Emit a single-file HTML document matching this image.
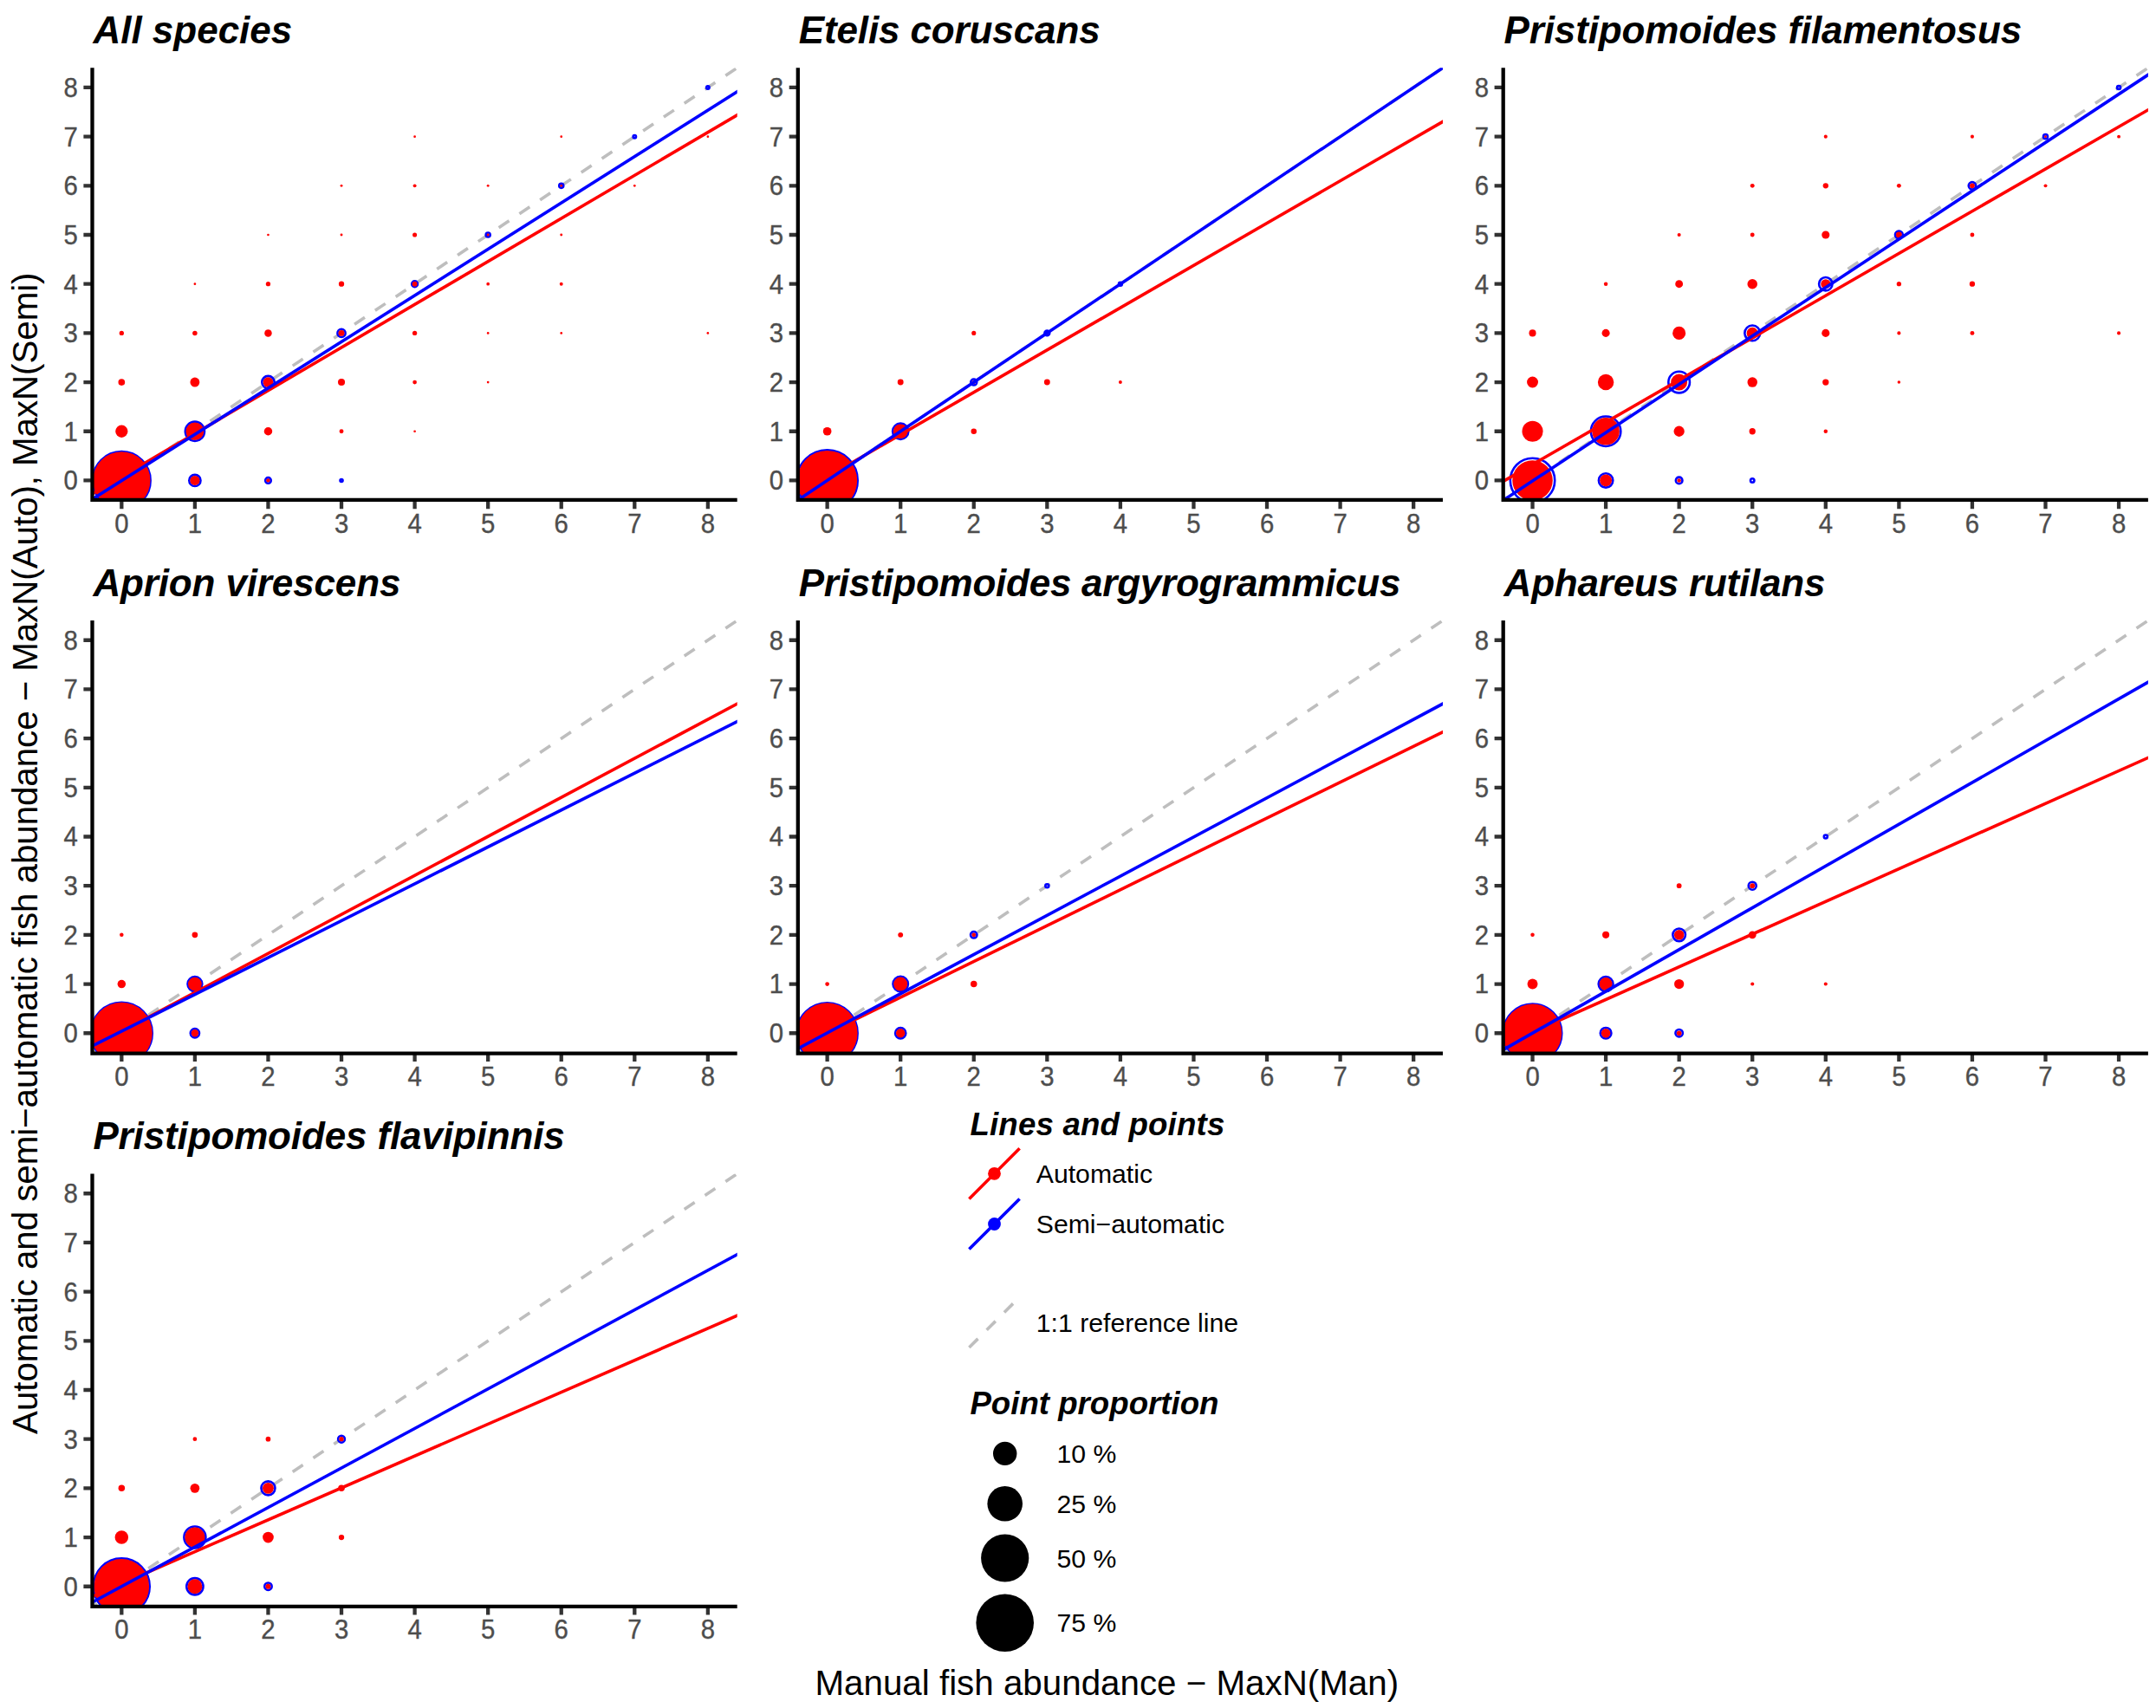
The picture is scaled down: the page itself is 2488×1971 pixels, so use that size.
<!DOCTYPE html>
<html lang="en"><head><meta charset="utf-8"><title>MaxN comparison</title>
<style>html,body{margin:0;padding:0;background:#fff}svg{display:block}text{font-family:"Liberation Sans", Arial, sans-serif}.st{font-size:44px;font-weight:bold;font-style:italic;fill:#000}.tk{font-size:29.33px;fill:#4D4D4D;stroke:#4D4D4D;stroke-width:0.35px}.ax{font-size:40.33px;fill:#000}.lt{font-size:36.67px;font-weight:bold;font-style:italic;fill:#000}.ll{font-size:30.2px;fill:#000}</style></head><body>
<svg width="2488" height="1971" viewBox="0 0 2488 1971">
<rect width="2488" height="1971" fill="#fff"/>
<defs>
<clipPath id="c0"><rect x="106.50" y="78.30" width="744.20" height="498.80"/></clipPath>
<clipPath id="c1"><rect x="920.80" y="78.30" width="744.20" height="498.80"/></clipPath>
<clipPath id="c2"><rect x="1734.70" y="78.30" width="744.20" height="498.80"/></clipPath>
<clipPath id="c3"><rect x="106.50" y="716.10" width="744.20" height="498.80"/></clipPath>
<clipPath id="c4"><rect x="920.80" y="716.10" width="744.20" height="498.80"/></clipPath>
<clipPath id="c5"><rect x="1734.70" y="716.10" width="744.20" height="498.80"/></clipPath>
<clipPath id="c6"><rect x="106.50" y="1354.60" width="744.20" height="498.80"/></clipPath>
</defs>
<g clip-path="url(#c0)">
<line x1="-637.7" y1="1075.9" x2="1594.9" y2="-420.5" stroke="#BEBEBE" stroke-width="3.58" stroke-dasharray="14.32 14.32"/>
<circle cx="140.33" cy="554.43" r="33.3" fill="none" stroke="#0000FF" stroke-width="2.6"/>
<circle cx="224.9" cy="554.43" r="6.6" fill="none" stroke="#0000FF" stroke-width="2.6"/>
<circle cx="224.9" cy="497.75" r="11.1" fill="none" stroke="#0000FF" stroke-width="2.6"/>
<circle cx="309.46" cy="554.43" r="3.3" fill="none" stroke="#0000FF" stroke-width="2.6"/>
<circle cx="309.46" cy="441.06" r="7.2" fill="none" stroke="#0000FF" stroke-width="2.6"/>
<circle cx="394.03" cy="554.43" r="1.5" fill="none" stroke="#0000FF" stroke-width="2.6"/>
<circle cx="394.03" cy="384.38" r="4.6" fill="none" stroke="#0000FF" stroke-width="2.6"/>
<circle cx="478.6" cy="327.7" r="3.4" fill="none" stroke="#0000FF" stroke-width="2.6"/>
<circle cx="563.17" cy="271.02" r="2.5" fill="none" stroke="#0000FF" stroke-width="2.6"/>
<circle cx="647.74" cy="214.34" r="2.5" fill="none" stroke="#0000FF" stroke-width="2.6"/>
<circle cx="732.3" cy="157.65" r="1.7" fill="none" stroke="#0000FF" stroke-width="2.6"/>
<circle cx="816.87" cy="100.97" r="1.7" fill="none" stroke="#0000FF" stroke-width="2.6"/>
<circle cx="140.33" cy="554.43" r="33.15" fill="#FF0000"/>
<circle cx="140.33" cy="497.75" r="7.15" fill="#FF0000"/>
<circle cx="140.33" cy="441.06" r="3.85" fill="#FF0000"/>
<circle cx="140.33" cy="384.38" r="2.65" fill="#FF0000"/>
<circle cx="224.9" cy="554.43" r="5.55" fill="#FF0000"/>
<circle cx="224.9" cy="497.75" r="10.35" fill="#FF0000"/>
<circle cx="224.9" cy="441.06" r="5.45" fill="#FF0000"/>
<circle cx="224.9" cy="384.38" r="2.75" fill="#FF0000"/>
<circle cx="224.9" cy="327.7" r="1.35" fill="#FF0000"/>
<circle cx="309.46" cy="554.43" r="2.15" fill="#FF0000"/>
<circle cx="309.46" cy="497.75" r="4.75" fill="#FF0000"/>
<circle cx="309.46" cy="441.06" r="5.85" fill="#FF0000"/>
<circle cx="309.46" cy="384.38" r="4.25" fill="#FF0000"/>
<circle cx="309.46" cy="327.7" r="2.65" fill="#FF0000"/>
<circle cx="309.46" cy="271.02" r="1.35" fill="#FF0000"/>
<circle cx="394.03" cy="497.75" r="2.45" fill="#FF0000"/>
<circle cx="394.03" cy="441.06" r="4.05" fill="#FF0000"/>
<circle cx="394.03" cy="384.38" r="3.45" fill="#FF0000"/>
<circle cx="394.03" cy="327.7" r="3.15" fill="#FF0000"/>
<circle cx="394.03" cy="271.02" r="1.45" fill="#FF0000"/>
<circle cx="394.03" cy="214.34" r="1.45" fill="#FF0000"/>
<circle cx="478.6" cy="497.75" r="1.35" fill="#FF0000"/>
<circle cx="478.6" cy="441.06" r="2.35" fill="#FF0000"/>
<circle cx="478.6" cy="384.38" r="2.65" fill="#FF0000"/>
<circle cx="478.6" cy="327.7" r="2.95" fill="#FF0000"/>
<circle cx="478.6" cy="271.02" r="2.55" fill="#FF0000"/>
<circle cx="478.6" cy="214.34" r="1.95" fill="#FF0000"/>
<circle cx="478.6" cy="157.65" r="1.35" fill="#FF0000"/>
<circle cx="563.17" cy="441.06" r="1.35" fill="#FF0000"/>
<circle cx="563.17" cy="384.38" r="1.35" fill="#FF0000"/>
<circle cx="563.17" cy="327.7" r="1.85" fill="#FF0000"/>
<circle cx="563.17" cy="271.02" r="1.45" fill="#FF0000"/>
<circle cx="563.17" cy="214.34" r="1.45" fill="#FF0000"/>
<circle cx="647.74" cy="384.38" r="1.35" fill="#FF0000"/>
<circle cx="647.74" cy="327.7" r="1.95" fill="#FF0000"/>
<circle cx="647.74" cy="271.02" r="1.45" fill="#FF0000"/>
<circle cx="647.74" cy="214.34" r="1.35" fill="#FF0000"/>
<circle cx="647.74" cy="157.65" r="1.35" fill="#FF0000"/>
<circle cx="732.3" cy="214.34" r="1.35" fill="#FF0000"/>
<circle cx="816.87" cy="384.38" r="1.35" fill="#FF0000"/>
<circle cx="816.87" cy="157.65" r="1.35" fill="#FF0000"/>
<line x1="-637.7" y1="1007.03" x2="1594.9" y2="-304.27" stroke="#FF0000" stroke-width="3.58"/>
<line x1="-637.7" y1="1046.3" x2="1594.9" y2="-364.35" stroke="#0000FF" stroke-width="3.58"/>
</g>
<path d="M140.33 577.1v10.1M106.5 554.43h-10.1M224.9 577.1v10.1M106.5 497.75h-10.1M309.46 577.1v10.1M106.5 441.06h-10.1M394.03 577.1v10.1M106.5 384.38h-10.1M478.6 577.1v10.1M106.5 327.7h-10.1M563.17 577.1v10.1M106.5 271.02h-10.1M647.74 577.1v10.1M106.5 214.34h-10.1M732.3 577.1v10.1M106.5 157.65h-10.1M816.87 577.1v10.1M106.5 100.97h-10.1" stroke="#333333" stroke-width="4.3" fill="none"/>
<path d="M106.5 78.3V576.8H850.7" stroke="#000" stroke-width="4.3" fill="none" stroke-linejoin="miter"/>
<text class="tk" text-anchor="middle" transform="translate(140.33 615) scale(1 1.055)">0</text>
<text class="tk" text-anchor="end" transform="translate(89.8 565.33) scale(1 1.055)">0</text>
<text class="tk" text-anchor="middle" transform="translate(224.9 615) scale(1 1.055)">1</text>
<text class="tk" text-anchor="end" transform="translate(89.8 508.65) scale(1 1.055)">1</text>
<text class="tk" text-anchor="middle" transform="translate(309.46 615) scale(1 1.055)">2</text>
<text class="tk" text-anchor="end" transform="translate(89.8 451.96) scale(1 1.055)">2</text>
<text class="tk" text-anchor="middle" transform="translate(394.03 615) scale(1 1.055)">3</text>
<text class="tk" text-anchor="end" transform="translate(89.8 395.28) scale(1 1.055)">3</text>
<text class="tk" text-anchor="middle" transform="translate(478.6 615) scale(1 1.055)">4</text>
<text class="tk" text-anchor="end" transform="translate(89.8 338.6) scale(1 1.055)">4</text>
<text class="tk" text-anchor="middle" transform="translate(563.17 615) scale(1 1.055)">5</text>
<text class="tk" text-anchor="end" transform="translate(89.8 281.92) scale(1 1.055)">5</text>
<text class="tk" text-anchor="middle" transform="translate(647.74 615) scale(1 1.055)">6</text>
<text class="tk" text-anchor="end" transform="translate(89.8 225.24) scale(1 1.055)">6</text>
<text class="tk" text-anchor="middle" transform="translate(732.3 615) scale(1 1.055)">7</text>
<text class="tk" text-anchor="end" transform="translate(89.8 168.55) scale(1 1.055)">7</text>
<text class="tk" text-anchor="middle" transform="translate(816.87 615) scale(1 1.055)">8</text>
<text class="tk" text-anchor="end" transform="translate(89.8 111.87) scale(1 1.055)">8</text>
<text class="st" x="107.4" y="50.1" textLength="229.9" lengthAdjust="spacing">All species</text>
<g clip-path="url(#c1)">
<line x1="176.6" y1="1075.9" x2="2409.2" y2="-420.5" stroke="#BEBEBE" stroke-width="3.58" stroke-dasharray="14.32 14.32"/>
<circle cx="954.63" cy="554.43" r="35.1" fill="none" stroke="#0000FF" stroke-width="2.6"/>
<circle cx="1039.2" cy="497.75" r="9.1" fill="none" stroke="#0000FF" stroke-width="2.6"/>
<circle cx="1123.76" cy="441.06" r="3.5" fill="none" stroke="#0000FF" stroke-width="2.6"/>
<circle cx="1208.33" cy="384.38" r="2.9" fill="none" stroke="#0000FF" stroke-width="2.6"/>
<circle cx="1292.9" cy="327.7" r="1.9" fill="none" stroke="#0000FF" stroke-width="2.6"/>
<circle cx="954.63" cy="554.43" r="34.55" fill="#FF0000"/>
<circle cx="954.63" cy="497.75" r="4.85" fill="#FF0000"/>
<circle cx="1039.2" cy="497.75" r="8.35" fill="#FF0000"/>
<circle cx="1039.2" cy="441.06" r="3.45" fill="#FF0000"/>
<circle cx="1123.76" cy="497.75" r="3.25" fill="#FF0000"/>
<circle cx="1123.76" cy="441.06" r="2.15" fill="#FF0000"/>
<circle cx="1123.76" cy="384.38" r="2.55" fill="#FF0000"/>
<circle cx="1208.33" cy="441.06" r="3.45" fill="#FF0000"/>
<circle cx="1208.33" cy="384.38" r="1.65" fill="#FF0000"/>
<circle cx="1292.9" cy="441.06" r="1.95" fill="#FF0000"/>
<line x1="176.6" y1="999.39" x2="2409.2" y2="-289.16" stroke="#FF0000" stroke-width="3.58"/>
<line x1="176.6" y1="1075.9" x2="2409.2" y2="-420.5" stroke="#0000FF" stroke-width="3.58"/>
</g>
<path d="M954.63 577.1v10.1M920.8 554.43h-10.1M1039.2 577.1v10.1M920.8 497.75h-10.1M1123.76 577.1v10.1M920.8 441.06h-10.1M1208.33 577.1v10.1M920.8 384.38h-10.1M1292.9 577.1v10.1M920.8 327.7h-10.1M1377.47 577.1v10.1M920.8 271.02h-10.1M1462.04 577.1v10.1M920.8 214.34h-10.1M1546.6 577.1v10.1M920.8 157.65h-10.1M1631.17 577.1v10.1M920.8 100.97h-10.1" stroke="#333333" stroke-width="4.3" fill="none"/>
<path d="M920.8 78.3V576.8H1665" stroke="#000" stroke-width="4.3" fill="none" stroke-linejoin="miter"/>
<text class="tk" text-anchor="middle" transform="translate(954.63 615) scale(1 1.055)">0</text>
<text class="tk" text-anchor="end" transform="translate(904.1 565.33) scale(1 1.055)">0</text>
<text class="tk" text-anchor="middle" transform="translate(1039.2 615) scale(1 1.055)">1</text>
<text class="tk" text-anchor="end" transform="translate(904.1 508.65) scale(1 1.055)">1</text>
<text class="tk" text-anchor="middle" transform="translate(1123.76 615) scale(1 1.055)">2</text>
<text class="tk" text-anchor="end" transform="translate(904.1 451.96) scale(1 1.055)">2</text>
<text class="tk" text-anchor="middle" transform="translate(1208.33 615) scale(1 1.055)">3</text>
<text class="tk" text-anchor="end" transform="translate(904.1 395.28) scale(1 1.055)">3</text>
<text class="tk" text-anchor="middle" transform="translate(1292.9 615) scale(1 1.055)">4</text>
<text class="tk" text-anchor="end" transform="translate(904.1 338.6) scale(1 1.055)">4</text>
<text class="tk" text-anchor="middle" transform="translate(1377.47 615) scale(1 1.055)">5</text>
<text class="tk" text-anchor="end" transform="translate(904.1 281.92) scale(1 1.055)">5</text>
<text class="tk" text-anchor="middle" transform="translate(1462.04 615) scale(1 1.055)">6</text>
<text class="tk" text-anchor="end" transform="translate(904.1 225.24) scale(1 1.055)">6</text>
<text class="tk" text-anchor="middle" transform="translate(1546.6 615) scale(1 1.055)">7</text>
<text class="tk" text-anchor="end" transform="translate(904.1 168.55) scale(1 1.055)">7</text>
<text class="tk" text-anchor="middle" transform="translate(1631.17 615) scale(1 1.055)">8</text>
<text class="tk" text-anchor="end" transform="translate(904.1 111.87) scale(1 1.055)">8</text>
<text class="st" x="921.7" y="50.1" textLength="347.92" lengthAdjust="spacing">Etelis coruscans</text>
<g clip-path="url(#c2)">
<line x1="990.5" y1="1075.9" x2="3223.1" y2="-420.5" stroke="#BEBEBE" stroke-width="3.58" stroke-dasharray="14.32 14.32"/>
<circle cx="1768.53" cy="554.43" r="25.7" fill="none" stroke="#0000FF" stroke-width="2.6"/>
<circle cx="1853.1" cy="554.43" r="8.2" fill="none" stroke="#0000FF" stroke-width="2.6"/>
<circle cx="1853.1" cy="497.75" r="17.2" fill="none" stroke="#0000FF" stroke-width="2.6"/>
<circle cx="1937.66" cy="554.43" r="3.8" fill="none" stroke="#0000FF" stroke-width="2.6"/>
<circle cx="1937.66" cy="441.06" r="12.3" fill="none" stroke="#0000FF" stroke-width="2.6"/>
<circle cx="2022.23" cy="554.43" r="2.2" fill="none" stroke="#0000FF" stroke-width="2.6"/>
<circle cx="2022.23" cy="384.38" r="8.9" fill="none" stroke="#0000FF" stroke-width="2.6"/>
<circle cx="2106.8" cy="327.7" r="7.7" fill="none" stroke="#0000FF" stroke-width="2.6"/>
<circle cx="2191.37" cy="271.02" r="4.4" fill="none" stroke="#0000FF" stroke-width="2.6"/>
<circle cx="2275.94" cy="214.34" r="4.2" fill="none" stroke="#0000FF" stroke-width="2.6"/>
<circle cx="2360.5" cy="157.65" r="2.5" fill="none" stroke="#0000FF" stroke-width="2.6"/>
<circle cx="2445.07" cy="100.97" r="2" fill="none" stroke="#0000FF" stroke-width="2.6"/>
<circle cx="1768.53" cy="554.43" r="23.25" fill="#FF0000"/>
<circle cx="1768.53" cy="497.75" r="12.05" fill="#FF0000"/>
<circle cx="1768.53" cy="441.06" r="6.45" fill="#FF0000"/>
<circle cx="1768.53" cy="384.38" r="4.05" fill="#FF0000"/>
<circle cx="1853.1" cy="554.43" r="6.95" fill="#FF0000"/>
<circle cx="1853.1" cy="497.75" r="15.75" fill="#FF0000"/>
<circle cx="1853.1" cy="441.06" r="9.25" fill="#FF0000"/>
<circle cx="1853.1" cy="384.38" r="4.55" fill="#FF0000"/>
<circle cx="1853.1" cy="327.7" r="2.25" fill="#FF0000"/>
<circle cx="1937.66" cy="554.43" r="2.25" fill="#FF0000"/>
<circle cx="1937.66" cy="497.75" r="6.15" fill="#FF0000"/>
<circle cx="1937.66" cy="441.06" r="9.45" fill="#FF0000"/>
<circle cx="1937.66" cy="384.38" r="7.55" fill="#FF0000"/>
<circle cx="1937.66" cy="327.7" r="4.45" fill="#FF0000"/>
<circle cx="1937.66" cy="271.02" r="2.05" fill="#FF0000"/>
<circle cx="2022.23" cy="497.75" r="3.65" fill="#FF0000"/>
<circle cx="2022.23" cy="441.06" r="5.75" fill="#FF0000"/>
<circle cx="2022.23" cy="384.38" r="6.55" fill="#FF0000"/>
<circle cx="2022.23" cy="327.7" r="5.75" fill="#FF0000"/>
<circle cx="2022.23" cy="271.02" r="2.45" fill="#FF0000"/>
<circle cx="2022.23" cy="214.34" r="2.45" fill="#FF0000"/>
<circle cx="2106.8" cy="497.75" r="2.25" fill="#FF0000"/>
<circle cx="2106.8" cy="441.06" r="3.65" fill="#FF0000"/>
<circle cx="2106.8" cy="384.38" r="4.55" fill="#FF0000"/>
<circle cx="2106.8" cy="327.7" r="5.55" fill="#FF0000"/>
<circle cx="2106.8" cy="271.02" r="4.55" fill="#FF0000"/>
<circle cx="2106.8" cy="214.34" r="3.15" fill="#FF0000"/>
<circle cx="2106.8" cy="157.65" r="2.05" fill="#FF0000"/>
<circle cx="2191.37" cy="441.06" r="1.75" fill="#FF0000"/>
<circle cx="2191.37" cy="384.38" r="2.05" fill="#FF0000"/>
<circle cx="2191.37" cy="327.7" r="2.65" fill="#FF0000"/>
<circle cx="2191.37" cy="271.02" r="3.45" fill="#FF0000"/>
<circle cx="2191.37" cy="214.34" r="2.45" fill="#FF0000"/>
<circle cx="2275.94" cy="384.38" r="2.45" fill="#FF0000"/>
<circle cx="2275.94" cy="327.7" r="3.15" fill="#FF0000"/>
<circle cx="2275.94" cy="271.02" r="2.45" fill="#FF0000"/>
<circle cx="2275.94" cy="214.34" r="2.85" fill="#FF0000"/>
<circle cx="2275.94" cy="157.65" r="2.05" fill="#FF0000"/>
<circle cx="2360.5" cy="214.34" r="1.95" fill="#FF0000"/>
<circle cx="2360.5" cy="157.65" r="1.35" fill="#FF0000"/>
<circle cx="2445.07" cy="384.38" r="2.05" fill="#FF0000"/>
<circle cx="2445.07" cy="157.65" r="1.95" fill="#FF0000"/>
<line x1="990.5" y1="984.21" x2="3223.1" y2="-301.94" stroke="#FF0000" stroke-width="3.58"/>
<line x1="990.5" y1="1068.44" x2="3223.1" y2="-404.77" stroke="#0000FF" stroke-width="3.58"/>
</g>
<path d="M1768.53 577.1v10.1M1734.7 554.43h-10.1M1853.1 577.1v10.1M1734.7 497.75h-10.1M1937.66 577.1v10.1M1734.7 441.06h-10.1M2022.23 577.1v10.1M1734.7 384.38h-10.1M2106.8 577.1v10.1M1734.7 327.7h-10.1M2191.37 577.1v10.1M1734.7 271.02h-10.1M2275.94 577.1v10.1M1734.7 214.34h-10.1M2360.5 577.1v10.1M1734.7 157.65h-10.1M2445.07 577.1v10.1M1734.7 100.97h-10.1" stroke="#333333" stroke-width="4.3" fill="none"/>
<path d="M1734.7 78.3V576.8H2478.9" stroke="#000" stroke-width="4.3" fill="none" stroke-linejoin="miter"/>
<text class="tk" text-anchor="middle" transform="translate(1768.53 615) scale(1 1.055)">0</text>
<text class="tk" text-anchor="end" transform="translate(1718 565.33) scale(1 1.055)">0</text>
<text class="tk" text-anchor="middle" transform="translate(1853.1 615) scale(1 1.055)">1</text>
<text class="tk" text-anchor="end" transform="translate(1718 508.65) scale(1 1.055)">1</text>
<text class="tk" text-anchor="middle" transform="translate(1937.66 615) scale(1 1.055)">2</text>
<text class="tk" text-anchor="end" transform="translate(1718 451.96) scale(1 1.055)">2</text>
<text class="tk" text-anchor="middle" transform="translate(2022.23 615) scale(1 1.055)">3</text>
<text class="tk" text-anchor="end" transform="translate(1718 395.28) scale(1 1.055)">3</text>
<text class="tk" text-anchor="middle" transform="translate(2106.8 615) scale(1 1.055)">4</text>
<text class="tk" text-anchor="end" transform="translate(1718 338.6) scale(1 1.055)">4</text>
<text class="tk" text-anchor="middle" transform="translate(2191.37 615) scale(1 1.055)">5</text>
<text class="tk" text-anchor="end" transform="translate(1718 281.92) scale(1 1.055)">5</text>
<text class="tk" text-anchor="middle" transform="translate(2275.94 615) scale(1 1.055)">6</text>
<text class="tk" text-anchor="end" transform="translate(1718 225.24) scale(1 1.055)">6</text>
<text class="tk" text-anchor="middle" transform="translate(2360.5 615) scale(1 1.055)">7</text>
<text class="tk" text-anchor="end" transform="translate(1718 168.55) scale(1 1.055)">7</text>
<text class="tk" text-anchor="middle" transform="translate(2445.07 615) scale(1 1.055)">8</text>
<text class="tk" text-anchor="end" transform="translate(1718 111.87) scale(1 1.055)">8</text>
<text class="st" x="1735.6" y="50.1" textLength="597.56" lengthAdjust="spacing">Pristipomoides filamentosus</text>
<g clip-path="url(#c3)">
<line x1="-637.7" y1="1713.7" x2="1594.9" y2="217.3" stroke="#BEBEBE" stroke-width="3.58" stroke-dasharray="14.32 14.32"/>
<circle cx="140.33" cy="1192.23" r="35.4" fill="none" stroke="#0000FF" stroke-width="2.6"/>
<circle cx="224.9" cy="1192.23" r="5.1" fill="none" stroke="#0000FF" stroke-width="2.6"/>
<circle cx="224.9" cy="1135.55" r="8.4" fill="none" stroke="#0000FF" stroke-width="2.6"/>
<circle cx="140.33" cy="1192.23" r="35.45" fill="#FF0000"/>
<circle cx="140.33" cy="1135.55" r="4.75" fill="#FF0000"/>
<circle cx="140.33" cy="1078.86" r="2.25" fill="#FF0000"/>
<circle cx="224.9" cy="1192.23" r="4.15" fill="#FF0000"/>
<circle cx="224.9" cy="1135.55" r="7.85" fill="#FF0000"/>
<circle cx="224.9" cy="1078.86" r="3.35" fill="#FF0000"/>
<line x1="-637.7" y1="1604.48" x2="1594.9" y2="416.04" stroke="#FF0000" stroke-width="3.58"/>
<line x1="-637.7" y1="1581.44" x2="1594.9" y2="458.39" stroke="#0000FF" stroke-width="3.58"/>
</g>
<path d="M140.33 1214.9v10.1M106.5 1192.23h-10.1M224.9 1214.9v10.1M106.5 1135.55h-10.1M309.46 1214.9v10.1M106.5 1078.86h-10.1M394.03 1214.9v10.1M106.5 1022.18h-10.1M478.6 1214.9v10.1M106.5 965.5h-10.1M563.17 1214.9v10.1M106.5 908.82h-10.1M647.74 1214.9v10.1M106.5 852.14h-10.1M732.3 1214.9v10.1M106.5 795.45h-10.1M816.87 1214.9v10.1M106.5 738.77h-10.1" stroke="#333333" stroke-width="4.3" fill="none"/>
<path d="M106.5 716.1V1215.7H850.7" stroke="#000" stroke-width="4.3" fill="none" stroke-linejoin="miter"/>
<text class="tk" text-anchor="middle" transform="translate(140.33 1252.8) scale(1 1.055)">0</text>
<text class="tk" text-anchor="end" transform="translate(89.8 1203.13) scale(1 1.055)">0</text>
<text class="tk" text-anchor="middle" transform="translate(224.9 1252.8) scale(1 1.055)">1</text>
<text class="tk" text-anchor="end" transform="translate(89.8 1146.45) scale(1 1.055)">1</text>
<text class="tk" text-anchor="middle" transform="translate(309.46 1252.8) scale(1 1.055)">2</text>
<text class="tk" text-anchor="end" transform="translate(89.8 1089.76) scale(1 1.055)">2</text>
<text class="tk" text-anchor="middle" transform="translate(394.03 1252.8) scale(1 1.055)">3</text>
<text class="tk" text-anchor="end" transform="translate(89.8 1033.08) scale(1 1.055)">3</text>
<text class="tk" text-anchor="middle" transform="translate(478.6 1252.8) scale(1 1.055)">4</text>
<text class="tk" text-anchor="end" transform="translate(89.8 976.4) scale(1 1.055)">4</text>
<text class="tk" text-anchor="middle" transform="translate(563.17 1252.8) scale(1 1.055)">5</text>
<text class="tk" text-anchor="end" transform="translate(89.8 919.72) scale(1 1.055)">5</text>
<text class="tk" text-anchor="middle" transform="translate(647.74 1252.8) scale(1 1.055)">6</text>
<text class="tk" text-anchor="end" transform="translate(89.8 863.04) scale(1 1.055)">6</text>
<text class="tk" text-anchor="middle" transform="translate(732.3 1252.8) scale(1 1.055)">7</text>
<text class="tk" text-anchor="end" transform="translate(89.8 806.35) scale(1 1.055)">7</text>
<text class="tk" text-anchor="middle" transform="translate(816.87 1252.8) scale(1 1.055)">8</text>
<text class="tk" text-anchor="end" transform="translate(89.8 749.67) scale(1 1.055)">8</text>
<text class="st" x="107.4" y="687.9" textLength="355.03" lengthAdjust="spacing">Aprion virescens</text>
<g clip-path="url(#c4)">
<line x1="176.6" y1="1713.7" x2="2409.2" y2="217.3" stroke="#BEBEBE" stroke-width="3.58" stroke-dasharray="14.32 14.32"/>
<circle cx="954.63" cy="1192.23" r="35" fill="none" stroke="#0000FF" stroke-width="2.6"/>
<circle cx="1039.2" cy="1192.23" r="6.1" fill="none" stroke="#0000FF" stroke-width="2.6"/>
<circle cx="1039.2" cy="1135.55" r="8.7" fill="none" stroke="#0000FF" stroke-width="2.6"/>
<circle cx="1123.76" cy="1078.86" r="3.7" fill="none" stroke="#0000FF" stroke-width="2.6"/>
<circle cx="1208.33" cy="1022.18" r="2" fill="none" stroke="#0000FF" stroke-width="2.6"/>
<circle cx="954.63" cy="1192.23" r="34.95" fill="#FF0000"/>
<circle cx="954.63" cy="1135.55" r="2.35" fill="#FF0000"/>
<circle cx="1039.2" cy="1192.23" r="5.15" fill="#FF0000"/>
<circle cx="1039.2" cy="1135.55" r="7.95" fill="#FF0000"/>
<circle cx="1039.2" cy="1078.86" r="2.95" fill="#FF0000"/>
<circle cx="1123.76" cy="1135.55" r="3.75" fill="#FF0000"/>
<circle cx="1123.76" cy="1078.86" r="2.35" fill="#FF0000"/>
<line x1="176.6" y1="1572.9" x2="2409.2" y2="480.53" stroke="#FF0000" stroke-width="3.58"/>
<line x1="176.6" y1="1607.94" x2="2409.2" y2="414.26" stroke="#0000FF" stroke-width="3.58"/>
</g>
<path d="M954.63 1214.9v10.1M920.8 1192.23h-10.1M1039.2 1214.9v10.1M920.8 1135.55h-10.1M1123.76 1214.9v10.1M920.8 1078.86h-10.1M1208.33 1214.9v10.1M920.8 1022.18h-10.1M1292.9 1214.9v10.1M920.8 965.5h-10.1M1377.47 1214.9v10.1M920.8 908.82h-10.1M1462.04 1214.9v10.1M920.8 852.14h-10.1M1546.6 1214.9v10.1M920.8 795.45h-10.1M1631.17 1214.9v10.1M920.8 738.77h-10.1" stroke="#333333" stroke-width="4.3" fill="none"/>
<path d="M920.8 716.1V1215.7H1665" stroke="#000" stroke-width="4.3" fill="none" stroke-linejoin="miter"/>
<text class="tk" text-anchor="middle" transform="translate(954.63 1252.8) scale(1 1.055)">0</text>
<text class="tk" text-anchor="end" transform="translate(904.1 1203.13) scale(1 1.055)">0</text>
<text class="tk" text-anchor="middle" transform="translate(1039.2 1252.8) scale(1 1.055)">1</text>
<text class="tk" text-anchor="end" transform="translate(904.1 1146.45) scale(1 1.055)">1</text>
<text class="tk" text-anchor="middle" transform="translate(1123.76 1252.8) scale(1 1.055)">2</text>
<text class="tk" text-anchor="end" transform="translate(904.1 1089.76) scale(1 1.055)">2</text>
<text class="tk" text-anchor="middle" transform="translate(1208.33 1252.8) scale(1 1.055)">3</text>
<text class="tk" text-anchor="end" transform="translate(904.1 1033.08) scale(1 1.055)">3</text>
<text class="tk" text-anchor="middle" transform="translate(1292.9 1252.8) scale(1 1.055)">4</text>
<text class="tk" text-anchor="end" transform="translate(904.1 976.4) scale(1 1.055)">4</text>
<text class="tk" text-anchor="middle" transform="translate(1377.47 1252.8) scale(1 1.055)">5</text>
<text class="tk" text-anchor="end" transform="translate(904.1 919.72) scale(1 1.055)">5</text>
<text class="tk" text-anchor="middle" transform="translate(1462.04 1252.8) scale(1 1.055)">6</text>
<text class="tk" text-anchor="end" transform="translate(904.1 863.04) scale(1 1.055)">6</text>
<text class="tk" text-anchor="middle" transform="translate(1546.6 1252.8) scale(1 1.055)">7</text>
<text class="tk" text-anchor="end" transform="translate(904.1 806.35) scale(1 1.055)">7</text>
<text class="tk" text-anchor="middle" transform="translate(1631.17 1252.8) scale(1 1.055)">8</text>
<text class="tk" text-anchor="end" transform="translate(904.1 749.67) scale(1 1.055)">8</text>
<text class="st" x="921.7" y="687.9" textLength="694.67" lengthAdjust="spacing">Pristipomoides argyrogrammicus</text>
<g clip-path="url(#c5)">
<line x1="990.5" y1="1713.7" x2="3223.1" y2="217.3" stroke="#BEBEBE" stroke-width="3.58" stroke-dasharray="14.32 14.32"/>
<circle cx="1768.53" cy="1192.23" r="33.7" fill="none" stroke="#0000FF" stroke-width="2.6"/>
<circle cx="1853.1" cy="1192.23" r="6.3" fill="none" stroke="#0000FF" stroke-width="2.6"/>
<circle cx="1853.1" cy="1135.55" r="8.4" fill="none" stroke="#0000FF" stroke-width="2.6"/>
<circle cx="1937.66" cy="1192.23" r="4.2" fill="none" stroke="#0000FF" stroke-width="2.6"/>
<circle cx="1937.66" cy="1078.86" r="7.3" fill="none" stroke="#0000FF" stroke-width="2.6"/>
<circle cx="2022.23" cy="1022.18" r="4.5" fill="none" stroke="#0000FF" stroke-width="2.6"/>
<circle cx="2106.8" cy="965.5" r="2" fill="none" stroke="#0000FF" stroke-width="2.6"/>
<circle cx="1768.53" cy="1192.23" r="33.65" fill="#FF0000"/>
<circle cx="1768.53" cy="1135.55" r="5.95" fill="#FF0000"/>
<circle cx="1768.53" cy="1078.86" r="2.25" fill="#FF0000"/>
<circle cx="1853.1" cy="1192.23" r="5.25" fill="#FF0000"/>
<circle cx="1853.1" cy="1135.55" r="7.45" fill="#FF0000"/>
<circle cx="1853.1" cy="1078.86" r="4.05" fill="#FF0000"/>
<circle cx="1937.66" cy="1192.23" r="2.85" fill="#FF0000"/>
<circle cx="1937.66" cy="1135.55" r="5.65" fill="#FF0000"/>
<circle cx="1937.66" cy="1078.86" r="5.75" fill="#FF0000"/>
<circle cx="1937.66" cy="1022.18" r="2.85" fill="#FF0000"/>
<circle cx="2022.23" cy="1135.55" r="2.05" fill="#FF0000"/>
<circle cx="2022.23" cy="1078.86" r="4.45" fill="#FF0000"/>
<circle cx="2022.23" cy="1022.18" r="2.85" fill="#FF0000"/>
<circle cx="2106.8" cy="1135.55" r="2.05" fill="#FF0000"/>
<line x1="990.5" y1="1538.03" x2="3223.1" y2="542.63" stroke="#FF0000" stroke-width="3.58"/>
<line x1="990.5" y1="1635.79" x2="3223.1" y2="362.95" stroke="#0000FF" stroke-width="3.58"/>
</g>
<path d="M1768.53 1214.9v10.1M1734.7 1192.23h-10.1M1853.1 1214.9v10.1M1734.7 1135.55h-10.1M1937.66 1214.9v10.1M1734.7 1078.86h-10.1M2022.23 1214.9v10.1M1734.7 1022.18h-10.1M2106.8 1214.9v10.1M1734.7 965.5h-10.1M2191.37 1214.9v10.1M1734.7 908.82h-10.1M2275.94 1214.9v10.1M1734.7 852.14h-10.1M2360.5 1214.9v10.1M1734.7 795.45h-10.1M2445.07 1214.9v10.1M1734.7 738.77h-10.1" stroke="#333333" stroke-width="4.3" fill="none"/>
<path d="M1734.7 716.1V1215.7H2478.9" stroke="#000" stroke-width="4.3" fill="none" stroke-linejoin="miter"/>
<text class="tk" text-anchor="middle" transform="translate(1768.53 1252.8) scale(1 1.055)">0</text>
<text class="tk" text-anchor="end" transform="translate(1718 1203.13) scale(1 1.055)">0</text>
<text class="tk" text-anchor="middle" transform="translate(1853.1 1252.8) scale(1 1.055)">1</text>
<text class="tk" text-anchor="end" transform="translate(1718 1146.45) scale(1 1.055)">1</text>
<text class="tk" text-anchor="middle" transform="translate(1937.66 1252.8) scale(1 1.055)">2</text>
<text class="tk" text-anchor="end" transform="translate(1718 1089.76) scale(1 1.055)">2</text>
<text class="tk" text-anchor="middle" transform="translate(2022.23 1252.8) scale(1 1.055)">3</text>
<text class="tk" text-anchor="end" transform="translate(1718 1033.08) scale(1 1.055)">3</text>
<text class="tk" text-anchor="middle" transform="translate(2106.8 1252.8) scale(1 1.055)">4</text>
<text class="tk" text-anchor="end" transform="translate(1718 976.4) scale(1 1.055)">4</text>
<text class="tk" text-anchor="middle" transform="translate(2191.37 1252.8) scale(1 1.055)">5</text>
<text class="tk" text-anchor="end" transform="translate(1718 919.72) scale(1 1.055)">5</text>
<text class="tk" text-anchor="middle" transform="translate(2275.94 1252.8) scale(1 1.055)">6</text>
<text class="tk" text-anchor="end" transform="translate(1718 863.04) scale(1 1.055)">6</text>
<text class="tk" text-anchor="middle" transform="translate(2360.5 1252.8) scale(1 1.055)">7</text>
<text class="tk" text-anchor="end" transform="translate(1718 806.35) scale(1 1.055)">7</text>
<text class="tk" text-anchor="middle" transform="translate(2445.07 1252.8) scale(1 1.055)">8</text>
<text class="tk" text-anchor="end" transform="translate(1718 749.67) scale(1 1.055)">8</text>
<text class="st" x="1735.6" y="687.9" textLength="370.89" lengthAdjust="spacing">Aphareus rutilans</text>
<g clip-path="url(#c6)">
<line x1="-637.7" y1="2352.2" x2="1594.9" y2="855.8" stroke="#BEBEBE" stroke-width="3.58" stroke-dasharray="14.32 14.32"/>
<circle cx="140.33" cy="1830.73" r="32.4" fill="none" stroke="#0000FF" stroke-width="2.6"/>
<circle cx="224.9" cy="1830.73" r="9.6" fill="none" stroke="#0000FF" stroke-width="2.6"/>
<circle cx="224.9" cy="1774.05" r="12.5" fill="none" stroke="#0000FF" stroke-width="2.6"/>
<circle cx="309.46" cy="1830.73" r="4.2" fill="none" stroke="#0000FF" stroke-width="2.6"/>
<circle cx="309.46" cy="1717.36" r="8" fill="none" stroke="#0000FF" stroke-width="2.6"/>
<circle cx="394.03" cy="1660.68" r="3.9" fill="none" stroke="#0000FF" stroke-width="2.6"/>
<circle cx="140.33" cy="1830.73" r="31.75" fill="#FF0000"/>
<circle cx="140.33" cy="1774.05" r="7.75" fill="#FF0000"/>
<circle cx="140.33" cy="1717.36" r="3.75" fill="#FF0000"/>
<circle cx="224.9" cy="1830.73" r="8.45" fill="#FF0000"/>
<circle cx="224.9" cy="1774.05" r="11.55" fill="#FF0000"/>
<circle cx="224.9" cy="1717.36" r="5.35" fill="#FF0000"/>
<circle cx="224.9" cy="1660.68" r="2.35" fill="#FF0000"/>
<circle cx="309.46" cy="1830.73" r="2.95" fill="#FF0000"/>
<circle cx="309.46" cy="1774.05" r="6.35" fill="#FF0000"/>
<circle cx="309.46" cy="1717.36" r="6.45" fill="#FF0000"/>
<circle cx="309.46" cy="1660.68" r="2.85" fill="#FF0000"/>
<circle cx="394.03" cy="1774.05" r="3.15" fill="#FF0000"/>
<circle cx="394.03" cy="1717.36" r="3.75" fill="#FF0000"/>
<circle cx="394.03" cy="1660.68" r="2.65" fill="#FF0000"/>
<line x1="-637.7" y1="2166.25" x2="1594.9" y2="1194.18" stroke="#FF0000" stroke-width="3.58"/>
<line x1="-637.7" y1="2250.2" x2="1594.9" y2="1046.5" stroke="#0000FF" stroke-width="3.58"/>
</g>
<path d="M140.33 1853.4v10.1M106.5 1830.73h-10.1M224.9 1853.4v10.1M106.5 1774.05h-10.1M309.46 1853.4v10.1M106.5 1717.36h-10.1M394.03 1853.4v10.1M106.5 1660.68h-10.1M478.6 1853.4v10.1M106.5 1604h-10.1M563.17 1853.4v10.1M106.5 1547.32h-10.1M647.74 1853.4v10.1M106.5 1490.64h-10.1M732.3 1853.4v10.1M106.5 1433.95h-10.1M816.87 1853.4v10.1M106.5 1377.27h-10.1" stroke="#333333" stroke-width="4.3" fill="none"/>
<path d="M106.5 1354.6V1853.8H850.7" stroke="#000" stroke-width="4.3" fill="none" stroke-linejoin="miter"/>
<text class="tk" text-anchor="middle" transform="translate(140.33 1891.3) scale(1 1.055)">0</text>
<text class="tk" text-anchor="end" transform="translate(89.8 1841.63) scale(1 1.055)">0</text>
<text class="tk" text-anchor="middle" transform="translate(224.9 1891.3) scale(1 1.055)">1</text>
<text class="tk" text-anchor="end" transform="translate(89.8 1784.95) scale(1 1.055)">1</text>
<text class="tk" text-anchor="middle" transform="translate(309.46 1891.3) scale(1 1.055)">2</text>
<text class="tk" text-anchor="end" transform="translate(89.8 1728.26) scale(1 1.055)">2</text>
<text class="tk" text-anchor="middle" transform="translate(394.03 1891.3) scale(1 1.055)">3</text>
<text class="tk" text-anchor="end" transform="translate(89.8 1671.58) scale(1 1.055)">3</text>
<text class="tk" text-anchor="middle" transform="translate(478.6 1891.3) scale(1 1.055)">4</text>
<text class="tk" text-anchor="end" transform="translate(89.8 1614.9) scale(1 1.055)">4</text>
<text class="tk" text-anchor="middle" transform="translate(563.17 1891.3) scale(1 1.055)">5</text>
<text class="tk" text-anchor="end" transform="translate(89.8 1558.22) scale(1 1.055)">5</text>
<text class="tk" text-anchor="middle" transform="translate(647.74 1891.3) scale(1 1.055)">6</text>
<text class="tk" text-anchor="end" transform="translate(89.8 1501.54) scale(1 1.055)">6</text>
<text class="tk" text-anchor="middle" transform="translate(732.3 1891.3) scale(1 1.055)">7</text>
<text class="tk" text-anchor="end" transform="translate(89.8 1444.85) scale(1 1.055)">7</text>
<text class="tk" text-anchor="middle" transform="translate(816.87 1891.3) scale(1 1.055)">8</text>
<text class="tk" text-anchor="end" transform="translate(89.8 1388.17) scale(1 1.055)">8</text>
<text class="st" x="107.4" y="1326.4" textLength="544.36" lengthAdjust="spacing">Pristipomoides flavipinnis</text>
<text class="ax" text-anchor="middle" textLength="1340.4" transform="translate(43.1 984.7) rotate(-90)">Automatic and semi−automatic fish abundance − MaxN(Auto), MaxN(Semi)</text>
<text class="ax" text-anchor="middle" x="1277.3" y="1955.7">Manual fish abundance − MaxN(Man)</text>
<text class="lt" x="1119.4" y="1309.9" textLength="293.94">Lines and points</text>
<line x1="1118.4" y1="1383.4" x2="1176.6" y2="1325.2" stroke="#FF0000" stroke-width="3.58"/>
<circle cx="1147.5" cy="1354.3" r="7.4" fill="#FF0000"/>
<text class="ll" x="1195.8" y="1364.9">Automatic</text>
<line x1="1118.4" y1="1441.6" x2="1176.6" y2="1383.4" stroke="#0000FF" stroke-width="3.58"/>
<circle cx="1147.5" cy="1412.5" r="7.4" fill="#0000FF"/>
<text class="ll" x="1195.8" y="1423.1">Semi−automatic</text>
<line x1="1118.4" y1="1555" x2="1176.6" y2="1496.8" stroke="#BEBEBE" stroke-width="3.58" stroke-dasharray="14.32 14.32"/>
<text class="ll" x="1195.8" y="1536.5">1:1 reference line</text>
<text class="lt" x="1119.4" y="1632.1">Point proportion</text>
<circle cx="1159.7" cy="1677.4" r="13.7" fill="#000"/>
<text class="ll" x="1219.5" y="1687.9">10 %</text>
<circle cx="1159.7" cy="1735.3" r="20.3" fill="#000"/>
<text class="ll" x="1219.5" y="1745.8">25 %</text>
<circle cx="1159.7" cy="1798" r="27.6" fill="#000"/>
<text class="ll" x="1219.5" y="1808.5">50 %</text>
<circle cx="1159.7" cy="1872.8" r="33.3" fill="#000"/>
<text class="ll" x="1219.5" y="1883.3">75 %</text>
</svg></body></html>
